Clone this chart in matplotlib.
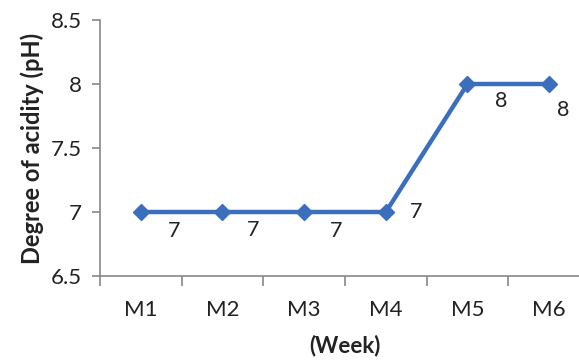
import matplotlib
matplotlib.use("Agg")
import matplotlib.pyplot as plt
import numpy as np

categories = ["M1", "M2", "M3", "M4", "M5", "M6"]
ph_values = [7, 7, 7, 7, 8, 8]
y_ticks = [6.5, 7, 7.5, 8, 8.5]
y_tick_labels = ["6.5", "7", "7.5", "8", "8.5"]

plt.rcParams['font.family'] = ['Lato', 'DejaVu Sans']

fig = plt.figure(figsize=(5.79, 3.62), dpi=100)
ax = fig.add_axes([100/579, 1-276/362, 490/579, 256/362])

x = np.arange(len(categories))
color = "#3B6FBE"
ax.plot(x, ph_values, color=color, lw=3.2, marker='D', ms=8, mec=color, mfc=color, clip_on=False, zorder=3)

# label offsets in points (Excel-like auto placement)
offsets = [(24, -14), (22, -13), (23, -14), (22, 0), (24, -12), (10, -19)]
for xi, v, off in zip(x, ph_values, offsets):
    ax.annotate(f"{v:g}", (xi, v), xytext=off, textcoords='offset points',
                ha='center', va='center', fontsize=15.5, color='#222222')

ax.set_xlim(-0.5, len(categories) - 0.5)
ax.set_ylim(6.5, 8.5)
ax.set_yticks(y_ticks)
ax.set_yticklabels(y_tick_labels)
ax.set_xticks(x)
ax.set_xticklabels(categories)
ax.set_xticks(np.arange(-0.5, len(categories)), minor=True)
ax.tick_params(axis='x', which='major', length=0, pad=17, labelsize=16, colors='#222222')
ax.tick_params(axis='x', which='minor', length=7, width=1.2, color='#888888', direction='out')
ax.tick_params(axis='y', length=6, width=1.2, color='#888888', labelsize=16, labelcolor='#222222', pad=7)

for s in ['top', 'right']:
    ax.spines[s].set_visible(False)
for s in ['left', 'bottom']:
    ax.spines[s].set_color('#888888')
    ax.spines[s].set_linewidth(1.2)

ax.set_ylabel("Degree of acidity (pH)", fontsize=17, fontweight='bold', color='#222222', labelpad=5)
ax.set_xlabel("(Week)", fontsize=16, fontweight='bold', color='#222222', labelpad=11)

fig.savefig("out.png", dpi=100)
